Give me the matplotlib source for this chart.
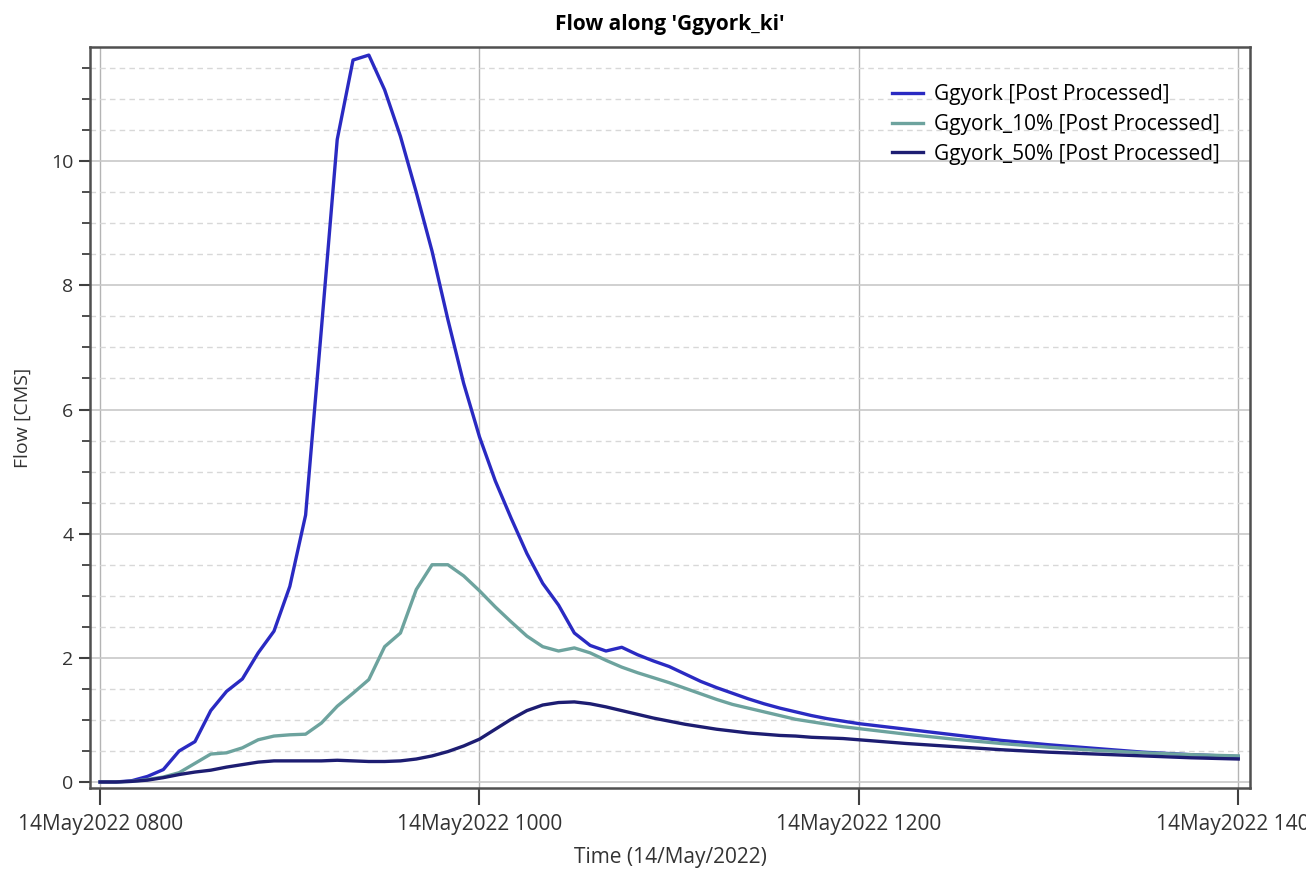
import matplotlib
matplotlib.use("Agg")
from matplotlib import pyplot as plt
from matplotlib.ticker import MultipleLocator, FixedLocator

plt.rcParams['font.family'] = ['Open Sans', 'DejaVu Sans']

# minutes after 14May2022 0800
minutes = [0, 5, 10, 15, 20, 25, 30, 35, 40, 45, 50, 55, 60, 65, 70, 75, 80, 85, 90, 95,
           100, 105, 110, 115, 120, 125, 130, 135, 140, 145, 150, 155, 160, 165, 170, 175,
           180, 185, 190, 195, 200, 205, 210, 215, 220, 225, 230, 235, 240,
           255, 270, 285, 300, 315, 330, 345, 360]

ggyork = [0.0, 0.0, 0.02, 0.09, 0.2, 0.5, 0.65, 1.15, 1.46, 1.66, 2.08, 2.43, 3.15, 4.3, 7.3, 10.35,
          11.63, 11.71, 11.15, 10.4, 9.5, 8.55, 7.45, 6.42, 5.56, 4.85, 4.25, 3.68, 3.2, 2.85,
          2.4, 2.2, 2.11, 2.17, 2.05, 1.95, 1.86, 1.74, 1.62, 1.52, 1.43, 1.34, 1.26, 1.19,
          1.13, 1.07, 1.02, 0.98, 0.94, 0.85, 0.76, 0.67, 0.6, 0.54, 0.48, 0.44, 0.41]

ggyork_10 = [0.0, 0.0, 0.01, 0.04, 0.08, 0.15, 0.3, 0.45, 0.47, 0.55, 0.68, 0.74, 0.76, 0.77, 0.95,
             1.22, 1.43, 1.65, 2.18, 2.4, 3.1, 3.5, 3.5, 3.32, 3.08, 2.82, 2.58, 2.35, 2.18, 2.11,
             2.16, 2.08, 1.96, 1.85, 1.76, 1.68, 1.6, 1.51, 1.42, 1.33, 1.25, 1.19, 1.13, 1.07,
             1.01, 0.97, 0.93, 0.89, 0.86, 0.77, 0.69, 0.62, 0.56, 0.51, 0.47, 0.44, 0.42]

ggyork_50 = [0.0, 0.0, 0.01, 0.03, 0.07, 0.12, 0.16, 0.19, 0.24, 0.28, 0.32, 0.34, 0.34, 0.34, 0.34,
             0.35, 0.34, 0.33, 0.33, 0.34, 0.37, 0.42, 0.49, 0.58, 0.69, 0.85, 1.01, 1.15, 1.24,
             1.28, 1.29, 1.26, 1.21, 1.15, 1.09, 1.03, 0.98, 0.93, 0.89, 0.85, 0.82, 0.79, 0.77,
             0.75, 0.74, 0.72, 0.71, 0.7, 0.68, 0.62, 0.57, 0.52, 0.48, 0.45, 0.42, 0.39, 0.37]

xtick_pos = [0, 120, 240, 360]
xtick_labels = ["14May2022 0800", "14May2022 1000", "14May2022 1200", "14May2022 1400"]

fig = plt.figure(figsize=(13.06, 8.69), dpi=100)
ax = fig.add_axes([0.0689, 0.0932, 0.8882, 0.8527])

ax.plot(minutes, ggyork, color="#2a2ac2", lw=2.4, label="Ggyork [Post Processed]")
ax.plot(minutes, ggyork_10, color="#6da39e", lw=2.4, label="Ggyork_10% [Post Processed]")
ax.plot(minutes, ggyork_50, color="#1d1d72", lw=2.4, label="Ggyork_50% [Post Processed]")

ax.set_xlim(-3.2, 363.7)
ax.set_ylim(-0.097, 11.84)

ax.xaxis.set_major_locator(FixedLocator(xtick_pos))
ax.set_xticklabels(xtick_labels, fontsize=15, color="#333333")
ax.yaxis.set_major_locator(MultipleLocator(2))
ax.yaxis.set_minor_locator(MultipleLocator(0.5))
ax.tick_params(axis="y", labelsize=14, labelcolor="#333333")

ax.tick_params(axis="x", which="major", length=12, width=1.5, color="#404040", pad=7)
ax.tick_params(axis="y", which="major", length=8, width=1.5, color="#404040", pad=4)
ax.tick_params(axis="y", which="minor", length=6, width=1.3, color="#404040")

# grid
ax.grid(axis="y", which="major", color="#c8c8c8", lw=1.2, ls="-")
ax.grid(axis="y", which="minor", color="#d8d8d8", lw=1.0, ls=(0, (4, 3)))
ax.grid(axis="x", which="major", color="#b4b4b4", lw=1.0, ls="-")
ax.set_axisbelow(True)

for s in ax.spines.values():
    s.set_color("#505050")
    s.set_linewidth(1.8)

ax.set_title("Flow along 'Ggyork_ki'", fontsize=15, fontweight="bold", pad=12)
ax.set_xlabel("Time (14/May/2022)", fontsize=15, color="#333333", labelpad=8)
ax.set_ylabel("Flow [CMS]", fontsize=14, color="#333333", labelpad=14)

ax.legend(loc="upper right", bbox_to_anchor=(0.99, 0.975), frameon=False, fontsize=15,
          handlelength=1.5, handletextpad=0.5, labelspacing=0.42)

fig.savefig("out.png", dpi=100)
